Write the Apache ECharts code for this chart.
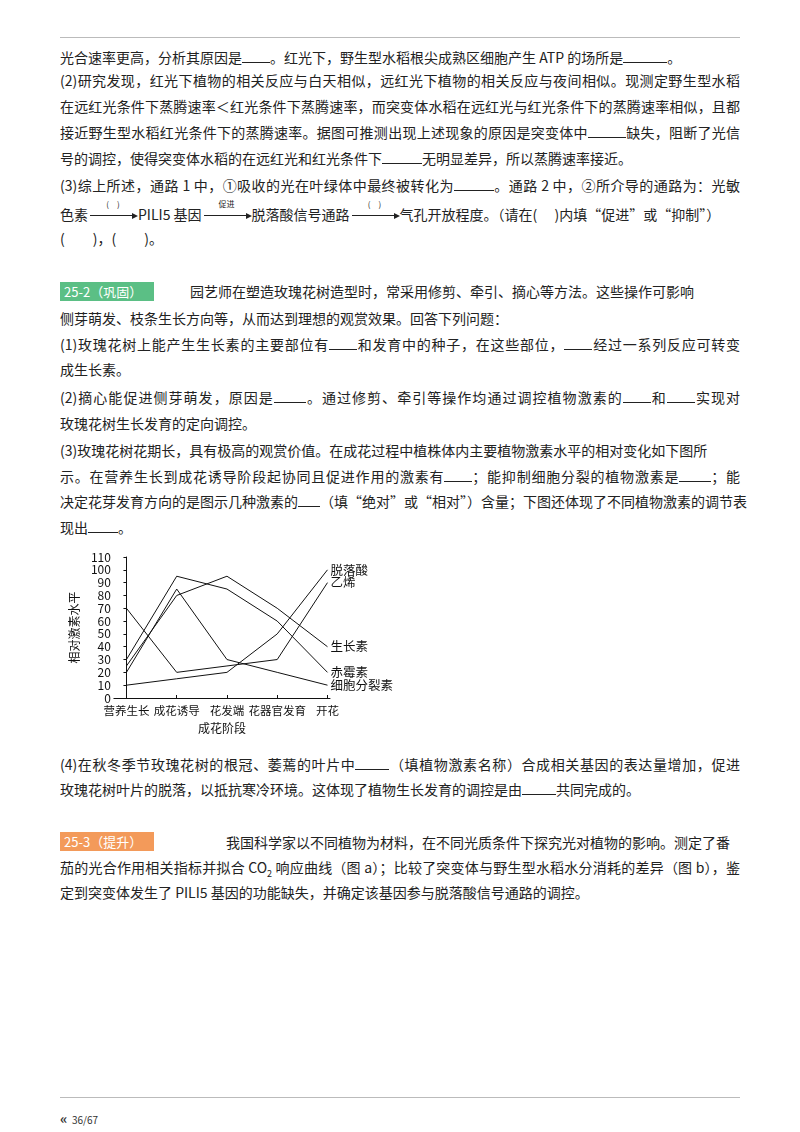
<!DOCTYPE html>
<html><head><meta charset="utf-8">
<script src="https://cdn.jsdelivr.net/npm/echarts@6/dist/echarts.min.js"></script>
<style>
body{margin:0;width:800px;height:1132px;position:relative;background:#fff;font-family:"Noto Sans CJK SC","Liberation Serif",serif;color:#222;}
.l{position:absolute;left:60px;width:680px;font-size:14px;line-height:20px;white-space:nowrap;}
.j{text-align:justify;text-align-last:justify;}
.b{display:inline-block;border-bottom:1px solid #222;height:14px;vertical-align:baseline;}
.tag{position:absolute;left:60px;width:90px;height:19px;color:#fff;font-size:13px;line-height:19px;padding-left:4px;}
.ar{display:inline-block;position:relative;width:46px;height:14px;border-bottom:1px solid #222;margin:0 2px;vertical-align:4px;}
.ar:after{content:"";position:absolute;right:-2px;bottom:-4px;border-left:6px solid #222;border-top:3.5px solid transparent;border-bottom:3.5px solid transparent;}
.ar span{position:absolute;top:-2px;left:0;width:46px;text-align:center;font-size:8px;line-height:10px;}
.hr{position:absolute;left:60px;width:680px;height:1px;background:#bbb;}
</style></head><body>
<div class="hr" style="top:37px"></div>
<div class="l" style="top:47px">光合速率更高，分析其原因是<span class="b" style="width:28px"></span>。红光下，野生型水稻根尖成熟区细胞产生 ATP 的场所是<span class="b" style="width:44px"></span>。</div>
<div class="l j" style="top:70px">(2)研究发现，红光下植物的相关反应与白天相似，远红光下植物的相关反应与夜间相似。现测定野生型水稻</div>
<div class="l j" style="top:96px">在远红光条件下蒸腾速率＜红光条件下蒸腾速率，而突变体水稻在远红光与红光条件下的蒸腾速率相似，且都</div>
<div class="l j" style="top:122px">接近野生型水稻红光条件下的蒸腾速率。据图可推测出现上述现象的原因是突变体中<span class="b" style="width:38px"></span>缺失，阻断了光信</div>
<div class="l" style="top:148px">号的调控，使得突变体水稻的在远红光和红光条件下<span class="b" style="width:40px"></span>无明显差异，所以蒸腾速率接近。</div>
<div class="l j" style="top:175px">(3)综上所述，通路 1 中，①吸收的光在叶绿体中最终被转化为<span class="b" style="width:40px"></span>。通路 2 中，②所介导的通路为：光敏</div>
<div class="l" style="top:201px">色素<span class="ar"><span>(　)</span></span>PILI5 基因<span class="ar"><span>促进</span></span>脱落酸信号通路<span class="ar"><span>(　)</span></span>气孔开放程度。（请在(　 )内填“促进”或“抑制”）</div>
<div class="l" style="top:228px">(　　)，(　　)。</div>

<div class="tag" style="top:282px;background:#5bbf85">25-2（巩固）</div>
<div class="l" style="top:281px;left:190px;width:520px">园艺师在塑造玫瑰花树造型时，常采用修剪、牵引、摘心等方法。这些操作可影响</div>
<div class="l" style="top:308px">侧芽萌发、枝条生长方向等，从而达到理想的观赏效果。回答下列问题：</div>
<div class="l j" style="top:334px">(1)玫瑰花树上能产生生长素的主要部位有<span class="b" style="width:28px"></span>和发育中的种子，在这些部位，<span class="b" style="width:28px"></span>经过一系列反应可转变</div>
<div class="l" style="top:359px">成生长素。</div>
<div class="l j" style="top:387px">(2)摘心能促进侧芽萌发，原因是<span class="b" style="width:32px"></span>。通过修剪、牵引等操作均通过调控植物激素的<span class="b" style="width:28px"></span>和<span class="b" style="width:28px"></span>实现对</div>
<div class="l" style="top:413px">玫瑰花树生长发育的定向调控。</div>
<div class="l" style="top:440px">(3)玫瑰花树花期长，具有极高的观赏价值。在成花过程中植株体内主要植物激素水平的相对变化如下图所</div>
<div class="l j" style="top:466px">示。在营养生长到成花诱导阶段起协同且促进作用的激素有<span class="b" style="width:28px"></span>；能抑制细胞分裂的植物激素是<span class="b" style="width:32px"></span>；能</div>
<div class="l j" style="top:491px">决定花芽发育方向的是图示几种激素的<span class="b" style="width:22px"></span>（填“绝对”或“相对”）含量；下图还体现了不同植物激素的调节表</div>
<div class="l" style="top:517px">现出<span class="b" style="width:30px"></span>。</div>

<div id="c" style="position:absolute;left:60px;top:545px;width:350px;height:200px"></div>

<div class="l j" style="top:754px">(4)在秋冬季节玫瑰花树的根冠、萎蔫的叶片中<span class="b" style="width:34px"></span>（填植物激素名称）合成相关基因的表达量增加，促进</div>
<div class="l" style="top:779px">玫瑰花树叶片的脱落，以抵抗寒冷环境。这体现了植物生长发育的调控是由<span class="b" style="width:34px"></span>共同完成的。</div>

<div class="tag" style="top:832px;background:#f39a5a">25-3（提升）</div>
<div class="l" style="top:832px;left:226px;width:514px">我国科学家以不同植物为材料，在不同光质条件下探究光对植物的影响。测定了番</div>
<div class="l j" style="top:857px">茄的光合作用相关指标并拟合 CO<sub style="font-size:9px">2</sub> 响应曲线（图 a）；比较了突变体与野生型水稻水分消耗的差异（图 b），鉴</div>
<div class="l" style="top:882px">定到突变体发生了 PILI5 基因的功能缺失，并确定该基因参与脱落酸信号通路的调控。</div>

<div class="hr" style="top:1097px"></div>
<div style="position:absolute;left:60px;top:1108px;font-size:10px;color:#333"><b style="font-size:14px">«</b>&nbsp; 36/67</div>

<script>
var categories=['营养生长','成花诱导','花发端','花器官发育','开花'];
var yTicks=[0,10,20,30,40,50,60,70,80,90,100,110];
var aba=[10,15,20,50,100];
var ethylene=[70,20,25,30,90];
var auxin=[25,80,95,70,40];
var gibberellin=[30,95,85,60,20];
var cytokinin=[20,85,30,20,10];
var names=['脱落酸','乙烯','生长素','赤霉素','细胞分裂素'];
var sets=[aba,ethylene,auxin,gibberellin,cytokinin];
var ch=echarts.init(document.getElementById('c'));
var tf={fontFamily:'"Noto Sans CJK SC",serif',color:'#111',fontSize:12};
ch.setOption({
animation:false,
grid:{left:40,top:12,width:230,height:141},
xAxis:{type:'value',min:-0.25,max:4.05,name:'成花阶段',nameLocation:'middle',nameGap:24,nameTextStyle:Object.assign({},tf,{fontSize:12}),
 splitLine:{show:false},axisLine:{lineStyle:{color:'#111'}},
 axisTick:{customValues:[0,1,2,3,4],length:-3,lineStyle:{color:'#111'}},
 axisLabel:Object.assign({customValues:[0,1,2,3,4],margin:7,formatter:function(v){return categories[Math.round(v)];}},tf,{fontSize:11.5})},
yAxis:{type:'value',min:0,max:110,interval:10,name:'相对激素水平',nameLocation:'middle',nameGap:24,nameRotate:90,nameTextStyle:tf,
 splitLine:{show:false},axisLine:{show:true,lineStyle:{color:'#111'}},axisTick:{show:true,length:3,lineStyle:{color:'#111'}},
 axisLabel:Object.assign({margin:3,formatter:function(v){return yTicks.indexOf(v)>=0?v:'';}},tf)},
series:sets.map(function(s,k){return {type:'line',name:names[k],symbol:'none',
 data:s.map(function(v,i){return [i,v];}),lineStyle:{color:'#111',width:1},
 endLabel:{show:true,formatter:names[k],distance:3,fontFamily:'"Noto Sans CJK SC",serif',color:'#111',fontSize:12.5}};})
});
</script>
</body></html>
